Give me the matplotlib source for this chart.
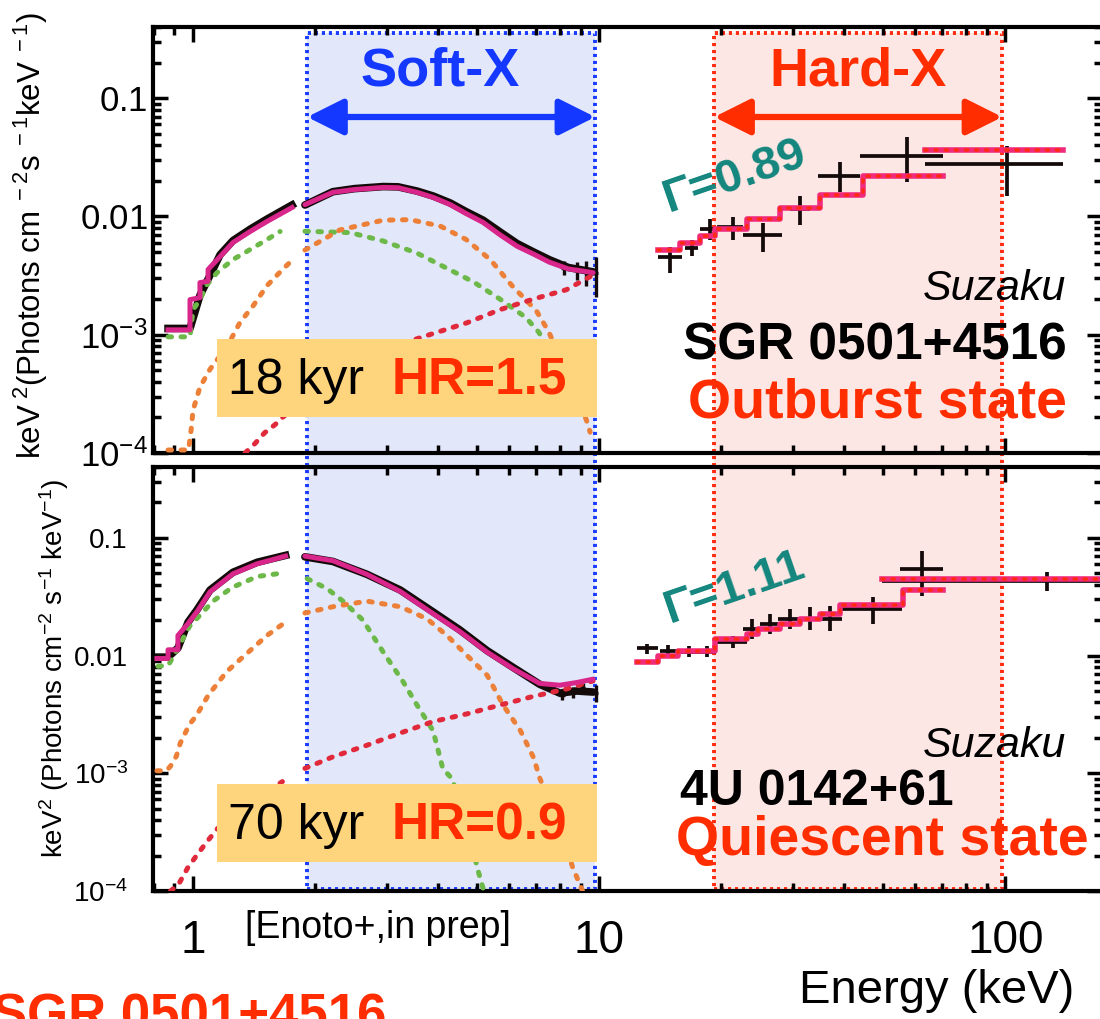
import matplotlib
matplotlib.use('Agg')
import matplotlib.pyplot as plt
from matplotlib.patches import Rectangle
from matplotlib.transforms import blended_transform_factory
from matplotlib.ticker import FixedLocator, LogLocator, NullFormatter

plt.rcParams['font.family'] = ['Liberation Sans', 'DejaVu Sans']
plt.rcParams['mathtext.fontset'] = 'custom'
plt.rcParams['mathtext.rm'] = 'Liberation Sans'
plt.rcParams['mathtext.it'] = 'Liberation Sans:italic'
plt.rcParams['mathtext.bf'] = 'Liberation Sans:bold'

W, H = 1100, 1019

# axis ranges (keV, keV^2 photons/cm2/s/keV)
E_MIN, E_MAX = 0.797, 173.0
F_MIN, F_MAX = 1e-4, 0.4
SOFT_BAND = (1.91, 9.78)
HARD_BAND = (19.2, 98.3)

xtick_vals = [1, 10, 100]
xtick_labels = ['1', '10', '100']
ytick_vals = [1e-4, 1e-3, 1e-2, 1e-1]
ytick_labels_top = [r'$10^{-4}$', r'$10^{-3}$', r'0.01$\ \ \ $', r'0.1$\ \ \ $']
ytick_labels_bot = [r'$10^{-4}$', r'$10^{-3}$', '0.01', '0.1']

# ---------------- SGR 0501+4516 (outburst) ----------------
# XIS, 0.8-1.8 keV
sgr_model_lo_e = [0.868, 0.983, 0.983, 1.040, 1.040, 1.089, 1.089, 1.166, 1.254, 1.382, 1.521, 1.753]
sgr_model_lo_f = [1.10e-3, 1.10e-3, 1.98e-3, 2.06e-3, 2.76e-3, 2.83e-3, 3.56e-3, 4.58e-3, 6.02e-3, 7.46e-3, 9.08e-3, 1.19e-2]
sgr_data_lo_e = [0.868, 0.983, 1.040, 1.089, 1.166, 1.254, 1.382, 1.521, 1.753]
sgr_data_lo_f = [1.13e-3, 1.13e-3, 2.15e-3, 2.95e-3, 4.75e-3, 6.25e-3, 7.8e-3, 9.5e-3, 1.25e-2]
sgr_bb1_lo_e = [0.868, 0.983, 1.000, 1.040, 1.082, 1.146, 1.254, 1.382, 1.521, 1.638]
sgr_bb1_lo_f = [9.6e-4, 9.6e-4, 1.63e-3, 1.98e-3, 2.65e-3, 3.35e-3, 4.32e-3, 5.25e-3, 6.38e-3, 7.46e-3]
sgr_bb2_lo_e = [0.868, 0.975, 0.990, 1.000, 1.040, 1.101, 1.212, 1.305, 1.405, 1.521, 1.666, 1.733]
sgr_bb2_lo_f = [1.06e-4, 1.06e-4, 1.6e-4, 2.3e-4, 3.6e-4, 5.1e-4, 7.9e-4, 1.27e-3, 1.75e-3, 2.6e-3, 3.6e-3, 4.1e-3]
sgr_pl_lo_e = [1.343, 1.42, 1.50, 1.59, 1.666, 1.75]
sgr_pl_lo_f = [1.0e-4, 1.2e-4, 1.48e-4, 1.73e-4, 2.02e-4, 2.3e-4]

# XIS, 1.9-10 keV
sgr_model_e = [1.886, 2.21, 2.5, 2.94, 3.2, 3.56, 3.9, 4.30, 4.7, 5.18, 5.7, 6.28, 6.9, 7.55, 8.4, 9.66]
sgr_model_f = [1.26e-2, 1.60e-2, 1.69e-2, 1.76e-2, 1.75e-2, 1.60e-2, 1.45e-2, 1.26e-2, 1.06e-2, 8.9e-3,
               7.0e-3, 5.6e-3, 4.8e-3, 4.1e-3, 3.6e-3, 3.35e-3]
sgr_data_f = [1.25e-2, 1.62e-2, 1.72e-2, 1.79e-2, 1.78e-2, 1.64e-2, 1.49e-2, 1.30e-2, 1.10e-2, 9.3e-3,
              7.4e-3, 5.9e-3, 5.0e-3, 4.3e-3, 3.7e-3, 3.4e-3]
sgr_err_e = [8.2, 8.8, 9.3, 9.8]
sgr_err_f = [3.7e-3, 3.5e-3, 3.4e-3, 3.3e-3]
sgr_err_df = [0.5e-3, 0.6e-3, 0.8e-3, 1.2e-3]
sgr_bb1_e = [1.886, 2.44, 2.94, 3.56, 4.12, 4.9, 5.7, 6.6, 7.1, 7.6]
sgr_bb1_f = [7.5e-3, 7.3e-3, 6.2e-3, 4.9e-3, 3.8e-3, 2.8e-3, 2.0e-3, 1.4e-3, 1.05e-3, 7.0e-4]
sgr_bb2_e = [1.886, 2.3, 2.94, 3.42, 4.06, 4.7, 5.4, 6.1, 7.0, 7.5, 8.4, 9.3, 9.5]
sgr_bb2_f = [5.2e-3, 7.7e-3, 9.3e-3, 9.4e-3, 8.3e-3, 6.4e-3, 4.3e-3, 2.6e-3, 1.6e-3, 1.07e-3, 4.5e-4, 1.9e-4, 1.5e-4]
sgr_pl_e = [1.886, 2.5, 3.0, 3.68, 4.72, 5.7, 6.88, 8.3, 9.66]
sgr_pl_f = [4.5e-4, 6.0e-4, 7.6e-4, 9.6e-4, 1.26e-3, 1.63e-3, 2.0e-3, 2.4e-3, 3.2e-3]

# hard X-ray model steps and points
sgr_hx_edges = [13.97, 15.83, 17.74, 19.31, 23.15, 27.92, 35.02, 44.7, 70.37]
sgr_hx_model = [5.25e-3, 6.0e-3, 6.78e-3, 7.76e-3, 9.44e-3, 1.19e-2, 1.53e-2, 2.22e-2]
sgr_gso_edges = [63.5, 138.9]
sgr_gso_model = [3.62e-2]
sgr_hx_e = [14.96, 16.95, 18.77, 21.38, 25.3, 31.26, 39.23, 57.36, 101.1]
sgr_hx_elo = [13.97, 16.28, 17.74, 19.53, 22.63, 29.54, 34.63, 43.96, 63.5]
sgr_hx_ehi = [16.01, 17.53, 19.86, 22.63, 28.23, 33.08, 43.96, 70.37, 138.9]
sgr_hx_f = [4.58e-3, 5.46e-3, 7.76e-3, 8.07e-3, 7.03e-3, 1.15e-2, 2.18e-2, 3.22e-2, 2.76e-2]
sgr_hx_flo = [3.35e-3, 4.67e-3, 6.38e-3, 6.38e-3, 5.05e-3, 8.55e-3, 1.60e-2, 1.94e-2, 1.48e-2]
sgr_hx_fhi = [5.57e-3, 6.38e-3, 9.44e-3, 9.82e-3, 8.89e-3, 1.48e-2, 2.87e-2, 4.67e-2, 3.92e-2]

# ---------------- 4U 0142+61 (quiescent) ----------------
u_model_lo_e = [0.815, 0.868, 0.868, 0.918, 0.918, 0.972, 1.023, 1.101, 1.254, 1.438, 1.69]
u_model_lo_f = [9.44e-3, 9.44e-3, 1.12e-2, 1.12e-2, 1.48e-2, 1.87e-2, 2.36e-2, 3.48e-2, 4.95e-2, 6.02e-2, 7.0e-2]
u_data_lo_e = [0.815, 0.868, 0.918, 0.972, 1.023, 1.101, 1.254, 1.438, 1.69]
u_data_lo_f = [9.7e-3, 9.7e-3, 1.16e-2, 1.92e-2, 2.45e-2, 3.6e-2, 5.1e-2, 6.2e-2, 7.1e-2]
u_bb1_lo_e = [0.82, 0.87, 0.93, 0.98, 1.04, 1.12, 1.25, 1.44, 1.61]
u_bb1_lo_f = [8.1e-3, 8.3e-3, 1.26e-2, 1.77e-2, 2.2e-2, 2.9e-2, 3.8e-2, 4.7e-2, 4.95e-2]
u_bb2_lo_e = [0.815, 0.86, 0.88, 0.91, 0.93, 0.98, 1.02, 1.09, 1.21, 1.33, 1.52, 1.67]
u_bb2_lo_f = [1.05e-3, 1.05e-3, 1.15e-3, 1.4e-3, 1.8e-3, 2.6e-3, 3.1e-3, 4.6e-3, 7.3e-3, 9.8e-3, 1.48e-2, 1.87e-2]
u_pl_lo_e = [0.88, 0.92, 0.97, 1.02, 1.08, 1.15, 1.40, 1.66]
u_pl_lo_f = [1.0e-4, 1.13e-4, 1.57e-4, 2.0e-4, 2.6e-4, 3.4e-4, 5.8e-4, 8.5e-4]

u_model_e = [1.886, 2.21, 2.68, 3.24, 3.9, 4.54, 5.3, 6.15, 7.14, 8.0, 8.8, 9.66]
u_model_f = [7.0e-2, 6.4e-2, 4.9e-2, 3.5e-2, 2.27e-2, 1.6e-2, 1.07e-2, 7.7e-3, 5.8e-3, 5.6e-3, 5.9e-3, 6.3e-3]
u_data_f = [6.9e-2, 6.3e-2, 4.9e-2, 3.6e-2, 2.35e-2, 1.65e-2, 1.1e-2, 7.9e-3, 5.7e-3, 4.8e-3, 5.0e-3, 4.9e-3]
u_err_e = [8.1, 8.6, 9.1, 9.8]
u_err_f = [4.6e-3, 4.9e-3, 5.3e-3, 4.8e-3]
u_err_df = [0.4e-3, 0.5e-3, 0.6e-3, 0.8e-3]
u_bb1_e = [1.91, 2.14, 2.34, 2.62, 2.94, 3.29, 3.56, 3.9, 4.12, 4.34, 4.7, 5.03, 5.2]
u_bb1_f = [4.5e-2, 3.7e-2, 2.9e-2, 2.0e-2, 1.07e-2, 6.0e-3, 3.8e-3, 2.3e-3, 1.1e-3, 9.0e-4, 4.0e-4, 1.5e-4, 1.0e-4]
u_bb2_e = [1.886, 2.21, 2.68, 3.24, 3.77, 4.22, 4.73, 5.3, 5.8, 6.4, 6.9, 7.14, 8.0, 8.6, 9.1]
u_bb2_f = [2.3e-2, 2.6e-2, 2.9e-2, 2.6e-2, 2.05e-2, 1.48e-2, 1.0e-2, 6.8e-3, 3.8e-3, 2.3e-3, 1.35e-3, 9.1e-4,
           3.5e-4, 1.6e-4, 1.0e-4]
u_pl_e = [1.886, 2.21, 2.68, 3.24, 3.9, 4.73, 5.7, 6.88, 8.3, 9.66]
u_pl_f = [1.1e-3, 1.38e-3, 1.73e-3, 2.2e-3, 2.75e-3, 3.2e-3, 3.8e-3, 4.5e-3, 5.2e-3, 6.1e-3]

u_hx_edges = [12.41, 13.97, 15.65, 19.31, 23.15, 24.64, 27.92, 31.26, 35.02, 39.23, 56.08, 70.37]
u_hx_model = [8.89e-3, 1.0e-2, 1.10e-2, 1.39e-2, 1.53e-2, 1.69e-2, 1.87e-2, 2.06e-2, 2.27e-2, 2.70e-2, 3.62e-2]
u_gso_edges = [49.8, 181.0]
u_gso_model = [4.50e-2]
u_hx_e = [13.1, 14.79, 16.66, 18.45, 21.3, 23.83, 26.4, 29.5, 33.1, 37.0, 47.3, 62.5, 126.9]
u_hx_elo = [12.41, 14.13, 15.83, 17.53, 19.31, 22.63, 24.9, 27.6, 31.26, 34.63, 39.7, 55.1, 49.8]
u_hx_ehi = [13.97, 15.47, 17.53, 19.43, 23.15, 24.9, 27.92, 31.26, 35.02, 39.7, 55.8, 70.37, 200.0]
u_hx_f = [1.15e-2, 1.10e-2, 1.08e-2, 1.08e-2, 1.31e-2, 1.69e-2, 1.87e-2, 2.06e-2, 2.06e-2, 2.06e-2, 2.50e-2, 5.46e-2, 4.32e-2]
u_hx_flo = [1.04e-2, 1.0e-2, 0.98e-2, 0.98e-2, 1.17e-2, 1.39e-2, 1.53e-2, 1.69e-2, 1.65e-2, 1.62e-2, 1.87e-2, 3.22e-2, 3.56e-2]
u_hx_fhi = [1.26e-2, 1.22e-2, 1.2e-2, 1.2e-2, 1.46e-2, 2.06e-2, 2.27e-2, 2.5e-2, 2.6e-2, 2.65e-2, 3.16e-2, 7.76e-2, 5.15e-2]

# colours
MODEL = '#d8268a'
HX_MODEL = '#f02a7c'
HX_DOT = '#ff2a14'
BB1 = '#6cb848'
BB2 = '#ec8038'
PL = '#e02a3c'
DATA = '#140a0a'
TEAL = '#14867e'
SOFT_C = '#1438ff'
HARD_C = '#ff2d00'
BOX = '#fed47c'


def fx(px):
    return px / W


def fy(py):
    return 1 - py / H


def style_axes(ax, ylabels, ysize, ypad, show_x):
    ax.set_xscale('log')
    ax.set_yscale('log')
    ax.set_xlim(E_MIN, E_MAX)
    ax.set_ylim(F_MIN, F_MAX)
    ax.set_facecolor('none')
    for s in ax.spines.values():
        s.set_linewidth(3)
    ax.xaxis.set_major_locator(FixedLocator(xtick_vals))
    ax.xaxis.set_minor_locator(LogLocator(base=10, subs=range(2, 10), numticks=12))
    ax.yaxis.set_minor_locator(LogLocator(base=10, subs=range(2, 10), numticks=12))
    ax.xaxis.set_minor_formatter(NullFormatter())
    ax.yaxis.set_minor_formatter(NullFormatter())
    ax.set_yticks(ytick_vals, labels=ylabels)
    ax.set_xticks(xtick_vals, labels=xtick_labels)
    ax.tick_params(which='both', direction='in', top=True, right=True, width=2.5)
    ax.tick_params(which='major', length=11)
    ax.tick_params(which='minor', length=5.5)
    ax.tick_params(axis='y', labelsize=ysize, pad=ypad)
    ax.tick_params(axis='x', labelsize=33, pad=20, labelbottom=show_x)


def dotted(ax, e, f, color):
    ax.plot(e, f, color=color, lw=3.6, ls=(0, (0.7, 1.9)), dash_capstyle='round', zorder=3)


def steps(ax, edges, vals):
    v = vals + [vals[-1]]
    ax.plot(edges, v, drawstyle='steps-post', color=HX_MODEL, lw=4, zorder=5)
    ax.plot(edges, v, drawstyle='steps-post', color=HX_DOT, lw=2.6, ls=(0, (0.6, 2.2)),
            dash_capstyle='round', zorder=6)


def crosses(ax, e, elo, ehi, f, flo, fhi):
    xerr = [[a - b for a, b in zip(e, elo)], [b - a for a, b in zip(e, ehi)]]
    yerr = [[a - b for a, b in zip(f, flo)], [b - a for a, b in zip(f, fhi)]]
    ax.errorbar(e, f, xerr=xerr, yerr=yerr, fmt='none', ecolor=DATA, elinewidth=2.7,
                capsize=0, zorder=4)


def soft_part(ax, e, data, model):
    ax.plot(e, data, color=DATA, lw=5.5, zorder=2, solid_capstyle='round')
    ax.plot(e, model, color=MODEL, lw=3.6, zorder=4, solid_capstyle='round')


fig = plt.figure(figsize=(11, 10.19), dpi=100)
ax1 = fig.add_axes([fx(153), fy(453), fx(1102) - fx(153), fy(27) - fy(453)])
ax2 = fig.add_axes([fx(153), fy(891), fx(1102) - fx(153), fy(467) - fy(891)])
style_axes(ax1, ytick_labels_top, 25, 4, False)
style_axes(ax2, ytick_labels_bot, 20, 18, True)

# 1. SGR 0501+4516
ax1.plot(sgr_data_lo_e, sgr_data_lo_f, color=DATA, lw=5.5, zorder=2)
ax1.plot(sgr_model_lo_e, sgr_model_lo_f, color=MODEL, lw=3.6, zorder=4)
dotted(ax1, sgr_bb1_lo_e, sgr_bb1_lo_f, BB1)
dotted(ax1, sgr_bb2_lo_e, sgr_bb2_lo_f, BB2)
dotted(ax1, sgr_pl_lo_e, sgr_pl_lo_f, PL)
soft_part(ax1, sgr_model_e, sgr_data_f, sgr_model_f)
ax1.errorbar(sgr_err_e, sgr_err_f, xerr=0.15, yerr=sgr_err_df, fmt='none', ecolor=DATA,
             elinewidth=2.4, capsize=0, zorder=2)
dotted(ax1, sgr_bb1_e, sgr_bb1_f, BB1)
dotted(ax1, sgr_bb2_e, sgr_bb2_f, BB2)
dotted(ax1, sgr_pl_e, sgr_pl_f, PL)
crosses(ax1, sgr_hx_e, sgr_hx_elo, sgr_hx_ehi, sgr_hx_f, sgr_hx_flo, sgr_hx_fhi)
steps(ax1, sgr_hx_edges, sgr_hx_model)
steps(ax1, sgr_gso_edges, sgr_gso_model)

# 2. 4U 0142+61
ax2.plot(u_data_lo_e, u_data_lo_f, color=DATA, lw=5.5, zorder=2)
ax2.plot(u_model_lo_e, u_model_lo_f, color=MODEL, lw=3.6, zorder=4)
dotted(ax2, u_bb1_lo_e, u_bb1_lo_f, BB1)
dotted(ax2, u_bb2_lo_e, u_bb2_lo_f, BB2)
dotted(ax2, u_pl_lo_e, u_pl_lo_f, PL)
soft_part(ax2, u_model_e, u_data_f, u_model_f)
ax2.errorbar(u_err_e, u_err_f, xerr=0.15, yerr=u_err_df, fmt='none', ecolor=DATA,
             elinewidth=2.4, capsize=0, zorder=2)
dotted(ax2, u_bb1_e, u_bb1_f, BB1)
dotted(ax2, u_bb2_e, u_bb2_f, BB2)
dotted(ax2, u_pl_e, u_pl_f, PL)
crosses(ax2, u_hx_e, u_hx_elo, u_hx_ehi, u_hx_f, u_hx_flo, u_hx_fhi)
steps(ax2, u_hx_edges, u_hx_model)
steps(ax2, u_gso_edges, u_gso_model)

# 3. soft / hard bands spanning both panels
band_tr = blended_transform_factory(ax1.transData, fig.transFigure)
for (lo, hi), face, edge in [(SOFT_BAND, '#e2e7fa', '#1a3cff'), (HARD_BAND, '#fde7e4', '#ff2a10')]:
    fig.add_artist(Rectangle((lo, fy(889)), hi - lo, fy(33) - fy(889), transform=band_tr,
                             facecolor=face, edgecolor=edge, lw=2.8, ls=(0, (0.8, 1.0)), zorder=-1))

for (lo, hi), color in [(SOFT_BAND, SOFT_C), (HARD_BAND, HARD_C)]:
    ax1.annotate('', xy=(hi, fy(117)), xytext=(lo, fy(117)),
                 xycoords=('data', 'figure fraction'), textcoords=('data', 'figure fraction'),
                 arrowprops=dict(arrowstyle='<|-|>,head_length=2.2,head_width=1.1', color=color,
                                 lw=4.5, shrinkA=0, shrinkB=0, mutation_scale=10))
fig.text(fx(440), fy(72), 'Soft-X', color=SOFT_C, fontsize=39, fontweight='bold',
         ha='center', va='center')
fig.text(fx(858), fy(72), 'Hard-X', color=HARD_C, fontsize=39, fontweight='bold',
         ha='center', va='center')

# 4. age / hardness-ratio boxes
for top, bot, age, hr in [(339, 417, '18 kyr', 'HR=1.5'), (784, 862, '70 kyr', 'HR=0.9')]:
    fig.add_artist(Rectangle((fx(217), fy(bot)), fx(597) - fx(217), fy(top) - fy(bot),
                             transform=fig.transFigure, facecolor=BOX, edgecolor='none', zorder=5))
    base = (top + bot) / 2 + 16
    fig.text(fx(228), fy(base), age, fontsize=36, color='black', ha='left', va='baseline', zorder=6)
    fig.text(fx(392), fy(base), hr, fontsize=37, color=HARD_C, fontweight='bold',
             ha='left', va='baseline', zorder=6)

# 5. source labels
fig.text(fx(735), fy(177), 'Γ=0.89', fontsize=34, color=TEAL, fontweight='bold',
         rotation=19, rotation_mode='anchor', ha='center', va='center')
fig.text(fx(735), fy(588), 'Γ=1.11', fontsize=34, color=TEAL, fontweight='bold',
         rotation=19, rotation_mode='anchor', ha='center', va='center')
fig.text(fx(1066), fy(300), 'Suzaku', fontsize=31, style='italic', ha='right', va='baseline')
fig.text(fx(1067), fy(360), 'SGR 0501+4516', fontsize=37, fontweight='bold', ha='right', va='baseline')
fig.text(fx(1067), fy(418), 'Outburst state', fontsize=40, fontweight='bold', color=HARD_C,
         ha='right', va='baseline')
fig.text(fx(1066), fy(757), 'Suzaku', fontsize=31, style='italic', ha='right', va='baseline')
fig.text(fx(680), fy(805), '4U 0142+61', fontsize=36, fontweight='bold', ha='left', va='baseline')
fig.text(fx(676), fy(855), 'Quiescent state', fontsize=40, fontweight='bold', color=HARD_C,
         ha='left', va='baseline')

# 6. axis titles and notes
fig.text(fx(31), fy(236), r'keV$^{\ 2}$(Photons cm$^{\ -2}$s$^{\ -1}$keV$^{\ -1}$)', fontsize=22.5,
         rotation=90, ha='center', va='center')
fig.text(fx(54), fy(668), r'keV$^2$ (Photons cm$^{-2}$ s$^{-1}$ keV$^{-1}$)', fontsize=20,
         rotation=90, ha='center', va='center')
fig.text(fx(937), fy(1003), 'Energy (keV)', fontsize=34, ha='center', va='baseline')
fig.text(fx(378), fy(928), '[Enoto+,in prep]', fontsize=27, ha='center', va='center')
fig.text(fx(-8), fy(1031), 'SGR 0501+4516', fontsize=38, fontweight='bold', color=HARD_C,
         ha='left', va='baseline')

fig.savefig('out.png', dpi=100)
